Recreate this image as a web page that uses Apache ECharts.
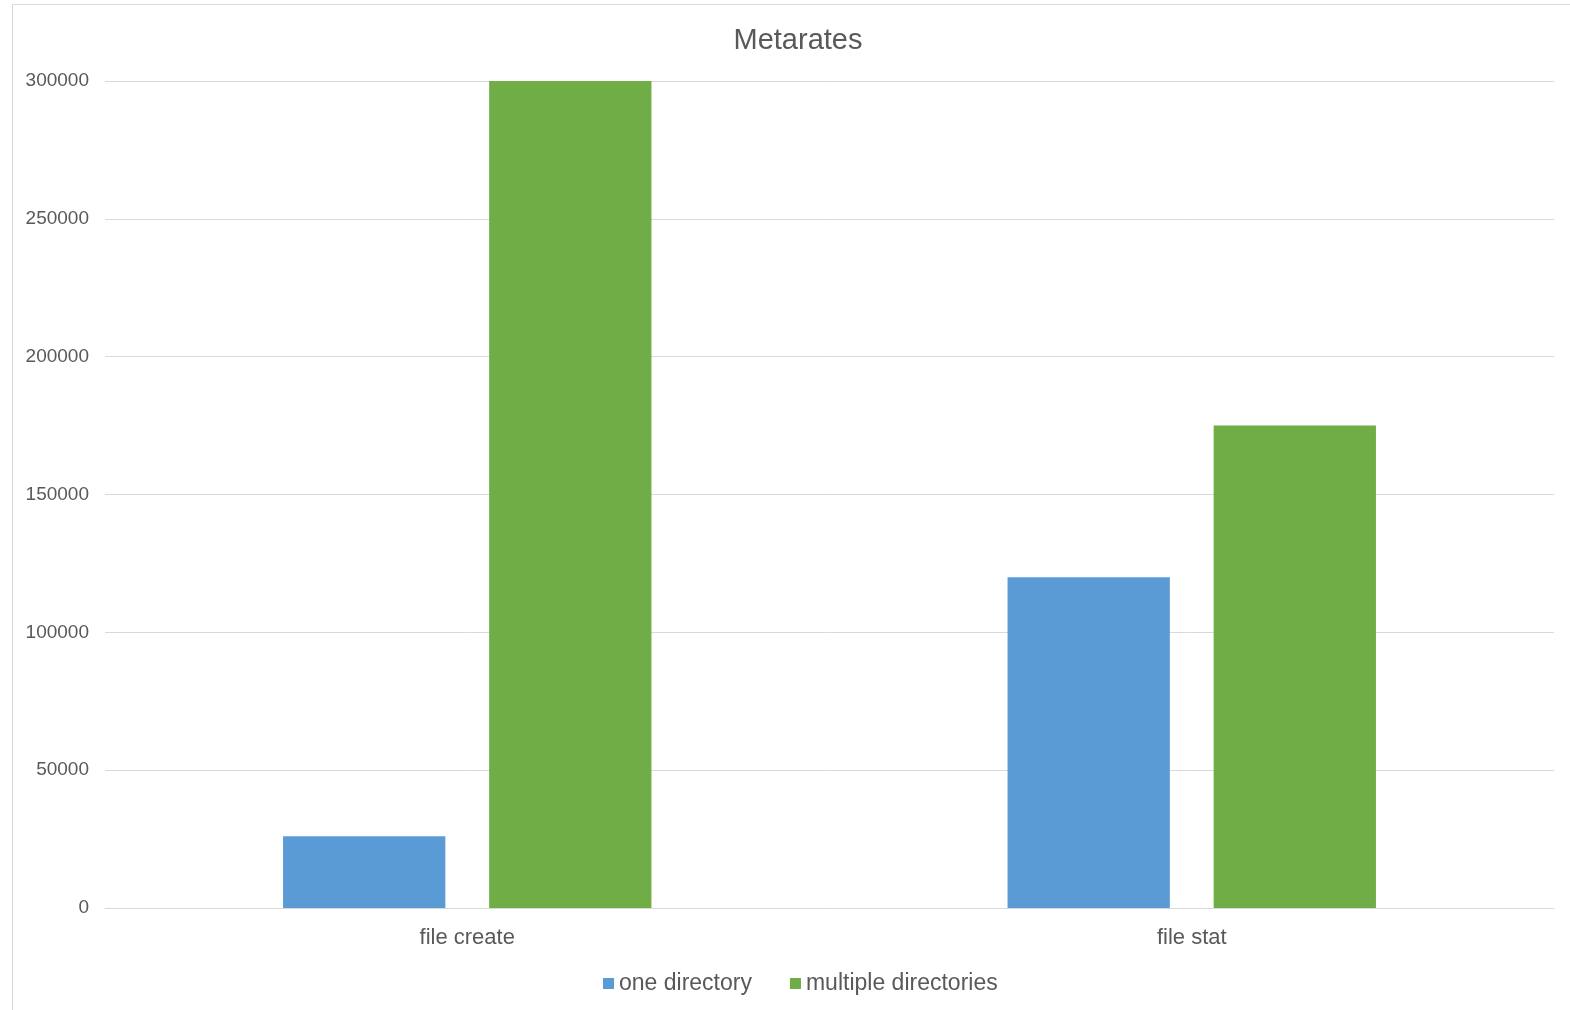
<!DOCTYPE html>
<html>
<head>
<meta charset="utf-8">
<script src="https://cdn.jsdelivr.net/npm/echarts@6/dist/echarts.min.js"></script>
<style>
html,body{margin:0;padding:0;background:#fff;}
#frame{position:absolute;left:12px;top:4px;width:1558px;height:1006px;border-left:1px solid #d9d9d9;border-top:1px solid #d9d9d9;box-sizing:border-box;}
#chart{position:absolute;left:0;top:0;width:1570px;height:1010px;}
</style>
</head>
<body>
<div id="frame"></div>
<div id="chart"></div>
<script>
const categories = ["file create", "file stat"];
const seriesNames = ["one directory", "multiple directories"];
const oneDirectory = [26000, 120000];
const multipleDirectories = [300000, 175000];
const yTicks = [0, 50000, 100000, 150000, 200000, 250000, 300000];

const chart = echarts.init(document.getElementById('chart'));
const font = 'Liberation Sans, Arial, sans-serif';
chart.setOption({
  animation: false,
  backgroundColor: 'transparent',
  title: {
    text: 'Metarates',
    left: 793, top: 21, textAlign: 'center',
    textStyle: { fontFamily: font, fontSize: 29, fontWeight: 'normal', color: '#595959' }
  },
  legend: {
    data: seriesNames,
    bottom: 10, left: 598,
    icon: 'rect', itemWidth: 11, itemHeight: 11, itemGap: 38,
    textStyle: { fontFamily: font, fontSize: 23, color: '#595959' }
  },
  grid: { left: 105, right: 16, top: 81, bottom: 102, containLabel: false },
  xAxis: {
    type: 'category',
    data: categories,
    axisLine: { lineStyle: { color: '#d9d9d9', width: 1 } },
    axisTick: { show: false },
    axisLabel: { fontFamily: font, fontSize: 22, color: '#595959', margin: 19 }
  },
  yAxis: {
    type: 'value',
    min: yTicks[0], max: yTicks[yTicks.length - 1], interval: yTicks[1] - yTicks[0],
    axisLine: { show: false },
    axisTick: { show: false },
    axisLabel: { fontFamily: font, fontSize: 19, color: '#595959', margin: 16, formatter: function (v) { return String(v); } },
    splitLine: { lineStyle: { color: '#d9d9d9', width: 1 } }
  },
  series: [
    { name: seriesNames[0], type: 'bar', data: oneDirectory, barWidth: '22.4%', barGap: '27%', itemStyle: { color: '#5B9BD5' } },
    { name: seriesNames[1], type: 'bar', data: multipleDirectories, barWidth: '22.4%', barGap: '27%', itemStyle: { color: '#70AD47' } }
  ]
});
</script>
</body>
</html>
